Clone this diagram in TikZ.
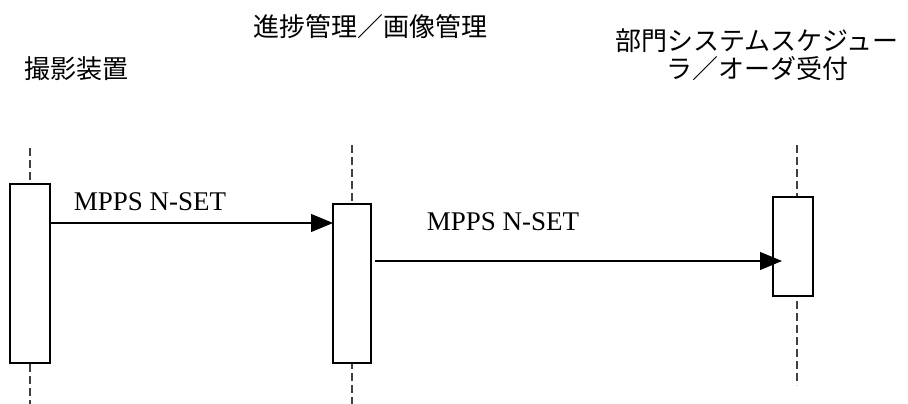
\documentclass[tikz,border=0pt]{standalone}
\usepackage{fontspec}
\setmainfont{Liberation Serif}
\newfontfamily\jpfont{Noto Sans CJK JP}
\usetikzlibrary{arrows.meta}
\begin{document}
\begin{tikzpicture}[x=1pt,y=-1pt,
  act/.style={draw,line width=1.3pt,fill=white,inner sep=0pt,outer sep=0pt},
  life/.style={dash pattern=on 8pt off 4pt,line width=1.3pt,black!75},
  msg/.style={line width=1.2pt,-{Triangle[length=22pt,width=18pt]}},
  lbl/.style={font=\fontsize{27}{30}\selectfont,anchor=base,inner sep=0pt},
  ttl/.style={font=\jpfont\fontsize{26}{28}\selectfont,align=center,inner sep=0pt}]
\useasboundingbox (0,0) rectangle (908,404);
% titles
\node[ttl] (t1) at (76,69) {撮影装置};
\node[ttl] (t2) at (370,27) {進捗管理／画像管理};
\node[ttl] (t3) at (757,55) {部門システムスケジュー\\ラ／オーダ受付};
% lifelines
\coordinate (l1a) at (30,148); \coordinate (l1b) at (30,404);
\coordinate (l2a) at (352,145); \coordinate (l2b) at (352,404);
\coordinate (l3a) at (797,145); \coordinate (l3b) at (797,385);
\draw[life] (l1a) -- (l1b);
\draw[life] (l2a) -- (l2b);
\draw[life] (l3a) -- (l3b);
% activation boxes
\node[act,minimum width=40pt,minimum height=179pt] (b1) at (30,273.5) {};
\node[act,minimum width=38pt,minimum height=159pt] (b2) at (352,283.5) {};
\node[act,minimum width=40pt,minimum height=99pt] (b3) at (793,246.5) {};
% messages
\coordinate (m1s) at (b1.east |- 0,223);
\coordinate (m1e) at (b2.west |- 0,223);
\draw[msg] (m1s) -- (m1e);
\node[lbl] (n1) at (150,210) {MPPS N-SET};
\coordinate (m2s) at (375,261);
\coordinate (m2e) at (782,261);
\draw[msg] (m2s) -- (m2e);
\node[lbl] (n2) at (503,230) {MPPS N-SET};
\end{tikzpicture}
\end{document}
